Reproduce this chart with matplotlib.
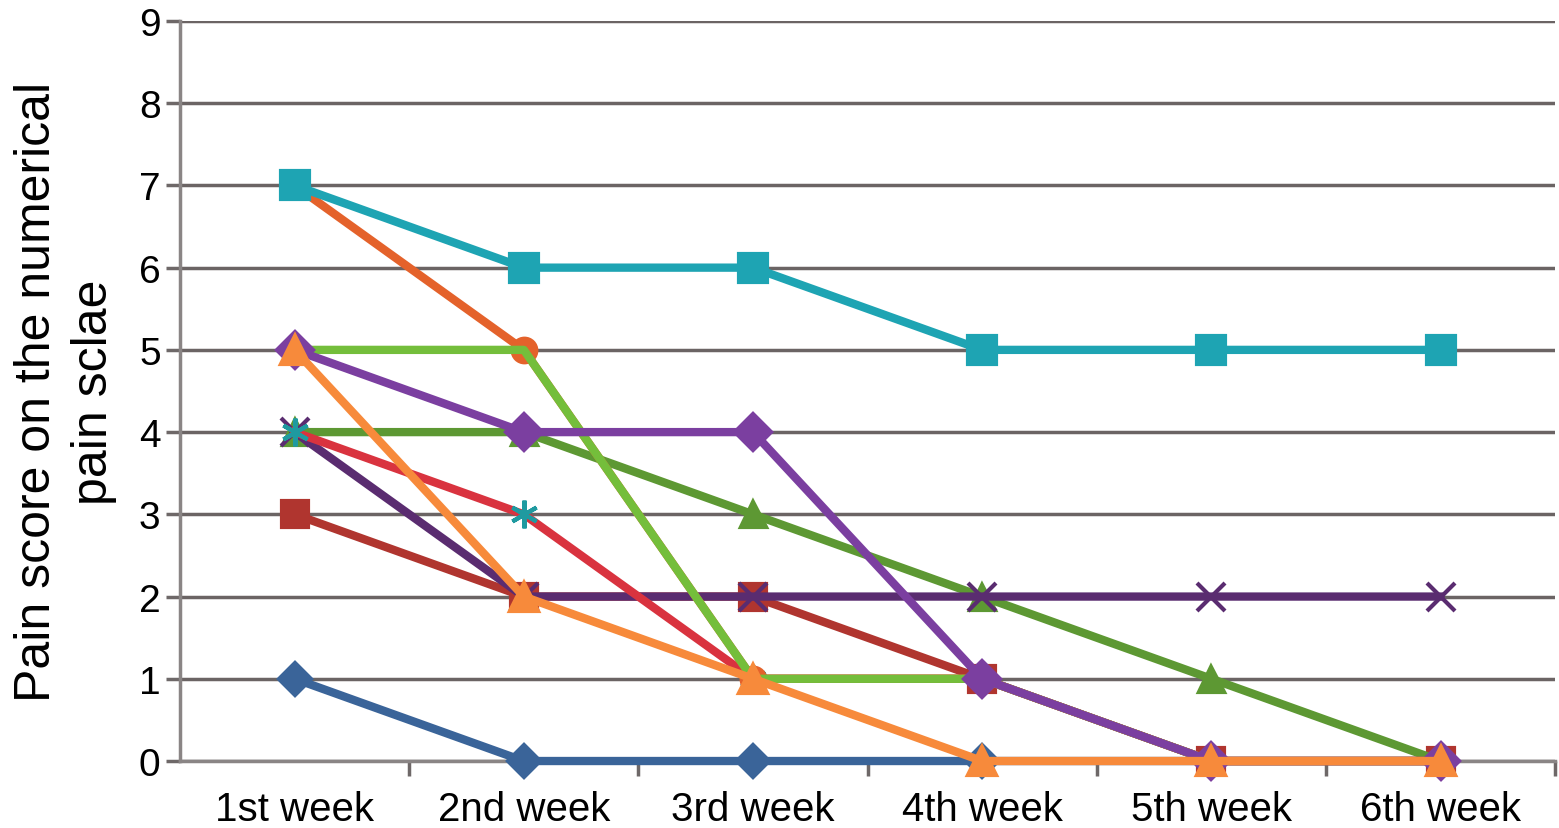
import matplotlib.pyplot as plt

weeks = ['1st week', '2nd week', '3rd week', '4th week', '5th week', '6th week']

# one list per patient, drawn in this order
p_blue = [1, 0, 0, 0, 0, 0]
p_darkred = [3, 2, 2, 1, 0, 0]
p_green = [4, 4, 3, 2, 1, 0]
p_darkpurple = [4, 2, 2, 2, 2, 2]
p_red = [4, 3, 1, 1, 0, 0]
p_orangered = [7, 5, 1, 1, 0, 0]
p_teal = [7, 6, 6, 5, 5, 5]
p_lightgreen = [5, 5, 1, 1, 0, 0]
p_purple = [5, 4, 4, 1, 0, 0]
p_orange = [5, 2, 1, 0, 0, 0]

series = [
    (p_blue, '#3a6499', '#3a6499', 'D', 16),
    (p_darkred, '#b0352f', '#b0352f', 's', 19),
    (p_green, '#5d9833', '#5d9833', '^', 18),
    (p_darkpurple, '#5a2c70', '#5a2c70', 'x', 20),
    (p_red, '#d9333f', '#1f9aa0', (6, 2, 0), 20),
    (p_orangered, '#e4622b', '#e4622b', 'o', 17),
    (p_teal, '#1ea4b3', '#1ea4b3', 's', 20),
    (p_lightgreen, '#74be3b', '#74be3b', 'None', 1),
    (p_purple, '#7b3fa0', '#7b3fa0', 'D', 18),
    (p_orange, '#f78a3b', '#f78a3b', '^', 20),
]

plt.rcParams['font.family'] = ['Liberation Sans', 'DejaVu Sans']

fig = plt.figure(figsize=(15.59, 8.29), dpi=100)
ax = fig.add_axes([0.1155, 0.0808, 0.882, 0.8927])

x = list(range(len(weeks)))
for vals, lc, mc, mk, ms in series:
    ax.plot(x, vals, color=lc, lw=6, marker=mk, markersize=ms,
            markerfacecolor=mc, markeredgecolor=mc, markeredgewidth=3,
            solid_joinstyle='round', zorder=3, clip_on=False)

ax.set_xlim(-0.5, 5.5)
ax.set_ylim(0, 9)
ax.set_yticks(range(10))
ax.set_xticks(x)
ax.set_xticklabels(weeks)
ax.set_xticks([i + 0.5 for i in range(6)], minor=True)
ax.tick_params(axis='x', which='major', length=0, labelsize=29, pad=21)
ax.tick_params(axis='x', which='minor', length=11, width=2.5, color='#6e6868')
ax.tick_params(axis='y', length=10, width=2.5, color='#6e6868', labelsize=28, pad=4)

ax.grid(axis='y', color='#6b6464', lw=2.5, zorder=1)
for s in ['top', 'right']:
    ax.spines[s].set_visible(False)
ax.spines['left'].set_color('#8a8585')
ax.spines['left'].set_linewidth(2.5)
ax.spines['bottom'].set_color('#8a8585')
ax.spines['bottom'].set_linewidth(2.5)

ax.set_ylabel('Pain score on the numerical\npain sclae', fontsize=36,
              linespacing=1.3, labelpad=16)

fig.savefig('out.png', dpi=100)
